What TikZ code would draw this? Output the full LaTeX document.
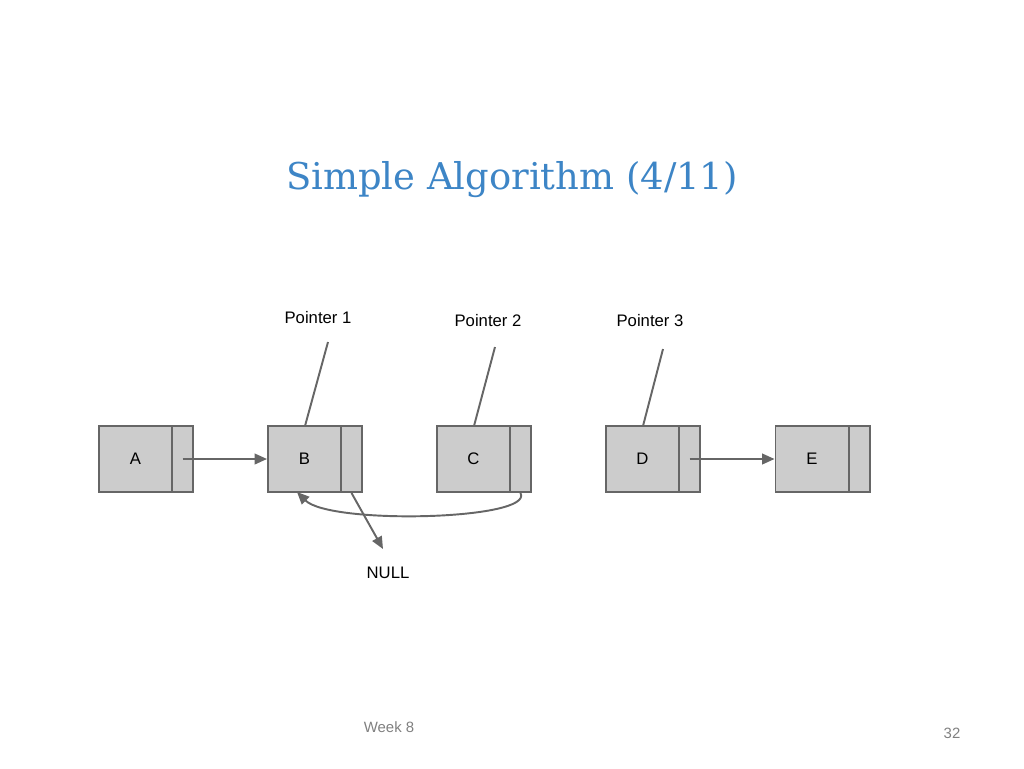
\documentclass[tikz,border=0pt]{standalone}
\usepackage{fontspec}
\newfontfamily\labelfont{Liberation Sans}
\newfontfamily\titlefont{DejaVu Serif}
\usetikzlibrary{arrows.meta}
\definecolor{boxgray}{HTML}{CCCCCC}
\definecolor{linegray}{HTML}{666666}
\definecolor{titleblue}{HTML}{3D85C6}
\tikzset{
  cell/.style={draw=linegray, fill=boxgray, line width=1.1pt, minimum width=73*0.02cm, minimum height=66*0.02cm, inner sep=0pt, font=\labelfont\fontsize{9.5}{11}\selectfont},
  link/.style={draw=linegray, fill=boxgray, line width=1.1pt, minimum width=21*0.02cm, minimum height=66*0.02cm, inner sep=0pt},
  lbl/.style={font=\labelfont\fontsize{9.5}{11}\selectfont},
  ptr/.style={draw=linegray, line width=1.1pt},
  arr/.style={draw=linegray, line width=1.1pt, -{Triangle[length=7pt,width=6pt]}}
}
\begin{document}
\begin{tikzpicture}[x=0.02cm, y=-0.02cm]
    \useasboundingbox (0,0) rectangle (1024,768);
    \node[font=\titlefont\fontsize{21}{25}\selectfont, text=titleblue] at (512,180) (title) {Simple Algorithm (4/11)};
    % list nodes
    \node[cell] at (135.5,459) (A) {A};
    \node[link] at (182.5,459) (An) {};
    \node[cell] at (304.5,459) (B) {B};
    \node[link] at (351.5,459) (Bn) {};
    \node[cell] at (473.5,459) (C) {C};
    \node[link] at (520.5,459) (Cn) {};
    \node[cell] at (642.5,459) (D) {D};
    \node[link] at (689.5,459) (Dn) {};
    \node[cell] at (812,459) (E) {E};
    \node[link] at (859.5,459) (En) {};
    % labels
    \node[lbl] at (318,318) (P1) {Pointer 1};
    \node[lbl] at (488,321) (P2) {Pointer 2};
    \node[lbl] at (650,321) (P3) {Pointer 3};
    \node[lbl] at (388,573) (null) {NULL};
    \node[font=\labelfont\fontsize{8.5}{10}\selectfont, text=gray] at (389,727) (week) {Week 8};
    \node[font=\labelfont\fontsize{8.5}{10}\selectfont, text=gray] at (952,733) (page) {32};
    % pointers
    \coordinate (P1e) at (328,342);
    \coordinate (P2e) at (495,347);
    \coordinate (P3e) at (663,349);
    \coordinate (nullend) at (383,549);
    \path[ptr] (P1e) -- (305,426);
    \path[ptr] (P2e) -- (474,426);
    \path[ptr] (P3e) -- (643,426);
    % links
    \path[arr] (An.center) -- (B.west);
    \path[arr] (Dn.center) -- (E.west);
    \path[arr] (Bn.south) -- (nullend);
    \path[arr] (Cn.south) .. controls (535,520) and (330,525) .. (297,492);
\end{tikzpicture}
\end{document}
